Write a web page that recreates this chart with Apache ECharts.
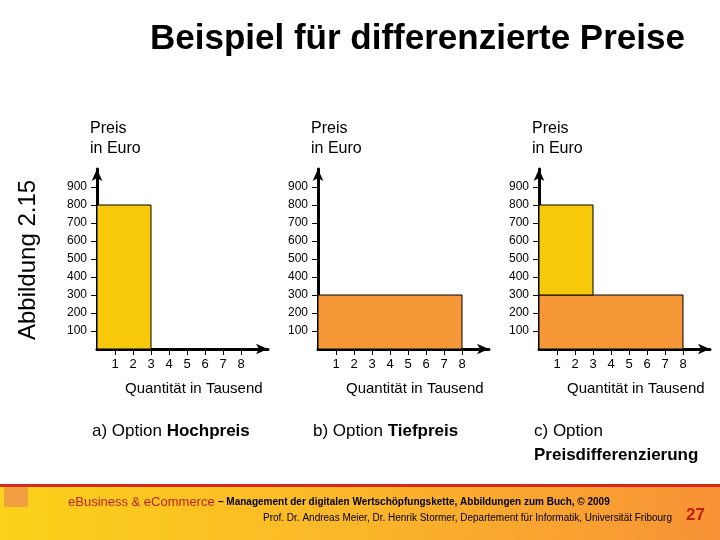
<!DOCTYPE html>
<html>
<head>
<meta charset="utf-8">
<script src="https://cdn.jsdelivr.net/npm/echarts@6/dist/echarts.min.js"></script>
<style>html,body{margin:0;padding:0;background:#fff}#chart{width:720px;height:540px}</style>
</head>
<body>
<div id="chart"></div>
<script>
// Data: [Menge von, Menge bis, Preis von, Preis bis, Farbe]
var optionLabels = ['a) Option ', 'b) Option ', 'c) Option'];
var optionBold = ['Hochpreis', 'Tiefpreis', 'Preisdifferenzierung'];
var priceTicks = [100, 200, 300, 400, 500, 600, 700, 800, 900];
var qtyTicks = [1, 2, 3, 4, 5, 6, 7, 8];
var barsHoch = [[0, 3, 0, 800, '#f8c80a']];
var barsTief = [[0, 8, 0, 300, '#f79838']];
var barsDiff = [[0, 8, 0, 300, '#f79838'], [0, 3, 300, 800, '#f8c80a']];
var allBars = [barsHoch, barsTief, barsDiff];

var lefts = [97, 318, 539];
var font = 'Liberation Sans, Arial, sans-serif';

var chart = echarts.init(document.getElementById('chart'));

var grids = [], xAxes = [], yAxes = [], series = [], graphics = [];

lefts.forEach(function(left, i) {
    grids.push({left: left, top: 169, width: 171, height: 180});
    xAxes.push({
        type: 'value', gridIndex: i, min: 0, max: 9.5, interval: 1,
        axisLine: {lineStyle: {color: '#000', width: 3}, symbol: ['none', 'arrow'], symbolSize: [8, 12]},
        axisTick: {length: 6, lineStyle: {color: '#000'}, customValues: qtyTicks},
        axisLabel: {color: '#000', fontFamily: font, fontSize: 13, margin: 9, customValues: qtyTicks},
        splitLine: {show: false}
    });
    yAxes.push({
        type: 'value', gridIndex: i, min: 0, max: 1000, interval: 100,
        axisLine: {lineStyle: {color: '#000', width: 3}, symbol: ['none', 'arrow'], symbolSize: [8, 12]},
        axisTick: {length: 6, lineStyle: {color: '#000'}, customValues: priceTicks},
        axisLabel: {color: '#000', fontFamily: font, fontSize: 12, margin: 10, customValues: priceTicks},
        splitLine: {show: false}
    });
    series.push({
        type: 'custom', xAxisIndex: i, yAxisIndex: i, z: 1,
        data: allBars[i],
        renderItem: function(params, api) {
            var p0 = api.coord([api.value(0), api.value(3)]);
            var p1 = api.coord([api.value(1), api.value(2)]);
            return {
                type: 'rect',
                shape: {x: p0[0], y: p0[1], width: p1[0] - p0[0], height: p1[1] - p0[1]},
                style: {fill: allBars[params.seriesIndex][params.dataIndex][4], stroke: '#000', lineWidth: 1}
            };
        }
    });
    graphics.push({type: 'text', left: left - 7, top: 119,
        style: {text: 'Preis\nin Euro', font: '16px ' + font, fill: '#000', lineHeight: 20}});
    graphics.push({type: 'text', left: left + 28, top: 381,
        style: {text: 'Quantität in Tausend', font: '15px ' + font, fill: '#000'}});
    graphics.push({type: 'text', left: left - 5, top: 419,
        style: {text: '{n|' + optionLabels[i] + '}' + (i === 2 ? '\n' : '') + '{b|' + optionBold[i] + '}',
            lineHeight: 24, rich: {
                n: {font: '17px ' + font, fill: '#000'},
                b: {font: 'bold 17px ' + font, fill: '#000'}
            }}});
});

// Title and side label
graphics.push({type: 'text', left: 150, top: 22,
    style: {text: 'Beispiel für differenzierte Preise', font: 'bold 35px ' + font, fill: '#000'}});
graphics.push({type: 'text', x: 16, y: 340, rotation: Math.PI / 2,
    style: {text: 'Abbildung 2.15', font: '24px ' + font, fill: '#000'}});

// Footer band
graphics.push({type: 'rect', shape: {x: 0, y: 484, width: 720, height: 56}, z: -1,
    style: {fill: new echarts.graphic.LinearGradient(0, 0, 1, 0, [
        {offset: 0, color: '#fcd21a'}, {offset: 0.5, color: '#fbb62a'}, {offset: 1, color: '#f79236'}])}});
graphics.push({type: 'rect', shape: {x: 0, y: 484, width: 720, height: 3}, style: {fill: '#d8281c'}});
graphics.push({type: 'rect', shape: {x: 4, y: 487, width: 24, height: 20}, style: {fill: '#f0a040'}});
graphics.push({type: 'text', left: 68, top: 496,
    style: {text: '{a|eBusiness & eCommerce} {b|– Management der digitalen Wertschöpfungskette, Abbildungen zum Buch, © 2009}',
        rich: {a: {font: '13px ' + font, fill: '#c0200e'}, b: {font: 'bold 10px ' + font, fill: '#000'}}}});
graphics.push({type: 'text', right: 48, top: 513,
    style: {text: 'Prof. Dr. Andreas Meier, Dr. Henrik Stormer, Departement für Informatik, Universität Fribourg',
        font: '10px ' + font, fill: '#000'}});
graphics.push({type: 'text', right: 15, top: 507,
    style: {text: '27', font: 'bold 17px ' + font, fill: '#c0200e'}});

chart.setOption({
    animation: false,
    grid: grids, xAxis: xAxes, yAxis: yAxes, series: series, graphic: graphics
});
</script>
</body>
</html>
